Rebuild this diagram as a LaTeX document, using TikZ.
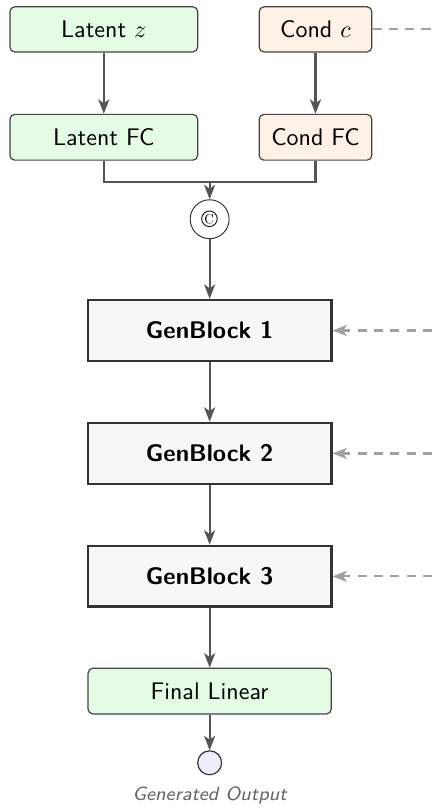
\documentclass[tikz,border=0pt]{standalone}
\usepackage{tikz}
\usetikzlibrary{arrows.meta,positioning}
\renewcommand{\familydefault}{\sfdefault}
\definecolor{latfill}{HTML}{E4FBE4}
\definecolor{condfill}{HTML}{FDF0E5}
\definecolor{genfill}{HTML}{F7F7F7}
\definecolor{boxline}{HTML}{444444}
\definecolor{genline}{HTML}{333333}
\definecolor{flowline}{HTML}{555555}
\definecolor{condline}{HTML}{A0A0A0}
\definecolor{outfill}{HTML}{EEEEFA}

\begin{document}
\begin{tikzpicture}[
    inbox/.style={draw=boxline, line width=0.5pt, rounded corners=2pt, minimum height=0.66cm, inner sep=2pt},
    latbox/.style={inbox, fill=latfill, minimum width=2.75cm},
    condbox/.style={inbox, fill=condfill, minimum width=1.65cm},
    genbox/.style={draw=genline, line width=1.1pt, fill=genfill, minimum width=3.56cm, minimum height=0.89cm, font=\bfseries},
    flow/.style={draw=flowline, line width=0.9pt, -{Stealth[length=6pt,width=4.6pt,inset=1.6pt]}},
    mergeline/.style={draw=flowline, line width=0.9pt},
    condlink/.style={draw=condline, line width=0.9pt, dash pattern=on 3.8pt off 3pt},
    condarrow/.style={condlink, -{Stealth[length=6pt,width=4.6pt,inset=1.6pt]}}
  ]
  \useasboundingbox (0,0) rectangle (6.326,-11.832);
  \coordinate (rim) at (6.326,0);
  % inputs
  \node[latbox] (latz) at (1.52,-0.43) {Latent $z$};
  \node[condbox] (condc) at (4.62,-0.43) {Cond $c$};
  \node[latbox, minimum height=0.67cm] (latfc) at (1.52,-2.01) {Latent FC};
  \node[condbox, minimum height=0.67cm] (condfc) at (4.62,-2.01) {Cond FC};
  \draw[flow] (latz) -- (latfc);
  \draw[flow] (condc) -- (condfc);
  % concatenation
  \coordinate (merge) at (3.07,-2.67);
  \node[draw=black!80, circle, line width=0.4pt, minimum size=0.57cm, inner sep=0pt, font=\rmfamily] (concat) at (3.07,-3.21) {\textcopyright};
  \draw[mergeline] (latfc.south) -- (latfc.south |- merge) -- (condfc.south |- merge) -- (condfc.south);
  \draw[flow] (merge) -- (concat);
  % generator blocks, conditioned from the side
  \draw[condlink] (condc.east) -- (condc.east -| rim);
  \foreach \i/\y in {1/-4.84,2/-6.64,3/-8.44}{
    \node[genbox] (gen\i) at (3.07,\y) {GenBlock \i};
    \draw[condarrow] (gen\i.east -| rim) -- (gen\i.east);
  }
  \draw[flow] (concat) -- (gen1);
  \draw[flow] (gen1) -- (gen2);
  \draw[flow] (gen2) -- (gen3);
  % output
  \node[latbox, minimum width=3.56cm, minimum height=0.67cm] (final) at (3.07,-10.12) {Final Linear};
  \node[draw=genline, circle, fill=outfill, line width=0.5pt, minimum size=0.35cm, inner sep=0pt] (out) at (3.07,-11.17) {};
  \node[font=\footnotesize\itshape, text=black!60] (outlab) at (3.07,-11.65) {Generated Output};
  \draw[flow] (gen3) -- (final);
  \draw[flow] (final) -- (out);
\end{tikzpicture}
\end{document}
